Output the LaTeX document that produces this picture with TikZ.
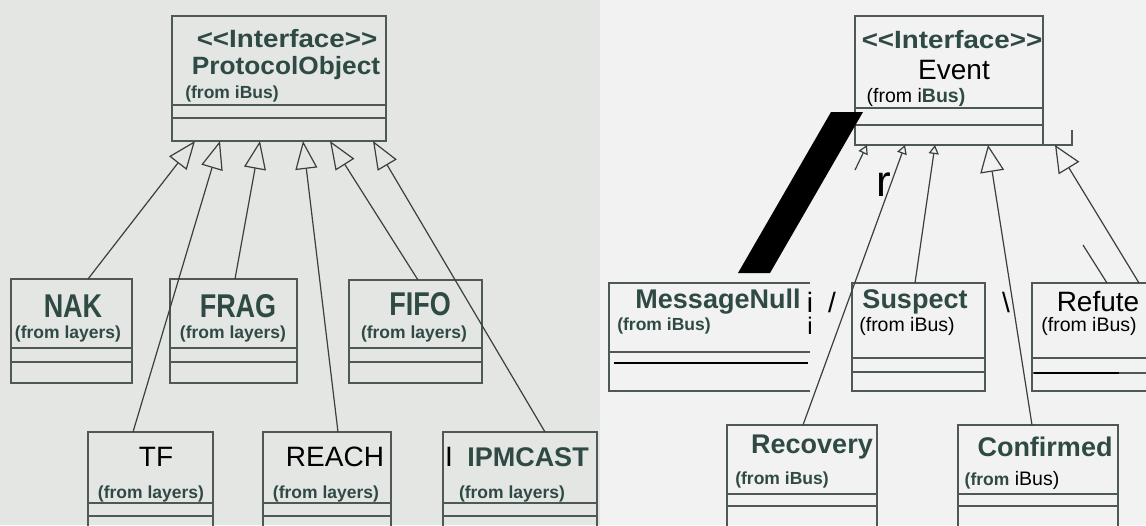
\documentclass[tikz,border=0pt]{standalone}
\usepackage{fontspec}
\setmainfont{Liberation Sans}
\usetikzlibrary{arrows.meta,calc}
\definecolor{bgL}{HTML}{E3E6E3}
\definecolor{bgR}{HTML}{F1F2F1}
\definecolor{ink}{HTML}{2F4A45}
\definecolor{edge}{HTML}{4E5956}
\definecolor{wire}{HTML}{3A403E}
\newcommand\umlbox[7]{%
  \node[boxnode,minimum width={#4-#2},minimum height={#5-#3},anchor=north west] (#1) at (#2,#3) {};
  \draw[compline] (#2,#6) -- (#4,#6);
  \draw[compline] (#2,#7) -- (#4,#7);}
\newcommand\tallname[1]{\scalebox{1}[1.22]{#1}}
\newcommand\stereo{\scalebox{1.11}[1]{<\kern0pt<Interface>\kern0pt>}}
\tikzset{
  boxnode/.style={draw=edge,line width=1.3pt,inner sep=0pt,outer sep=0pt,rectangle},
  compline/.style={draw=edge,line width=1.3pt},
  nm/.style={text=ink,font=\bfseries\fontsize{27}{30}\selectfont,inner sep=0pt},
  nmsm/.style={text=ink,font=\bfseries\fontsize{25}{27}\selectfont,inner sep=0pt},
  nmk/.style={text=black,font=\fontsize{28}{31}\selectfont,inner sep=0pt},
  fr/.style={text=ink,font=\bfseries\fontsize{17.5}{20}\selectfont,inner sep=0pt},
  frk/.style={text=black,font=\fontsize{19.5}{22}\selectfont,inner sep=0pt},
  glyph/.style={text=black,font=\fontsize{28}{31}\selectfont,inner sep=0pt},
  wireline/.style={draw=wire,line width=1.2pt},
  genL/.style={wireline,-{Triangle[length=28pt,width=22pt,fill=bgL]}},
  genR/.style={wireline,-{Triangle[length=27pt,width=24pt,fill=bgR]}},
  genS/.style={wireline,-{Triangle[length=9pt,width=10pt,fill=bgR]}},
}
\begin{document}
\begin{tikzpicture}[x=1pt,y=-1pt]
\useasboundingbox (0,0) rectangle (1146,525);
\fill[bgL] (0,0) rectangle (600,525);
\fill[bgR] (600,0) rectangle (1146,525);
\clip (0,0) rectangle (1146,525);

% ---- boxes
\umlbox{po}{172}{16}{386}{141}{105}{118}
\umlbox{nak}{11}{279}{132}{383}{348}{362}
\umlbox{frag}{170}{279}{297}{383}{348}{362}
\umlbox{fifo}{349}{280}{482}{383}{348}{362}
\umlbox{tf}{88}{432}{213}{545}{503}{516}
\umlbox{reach}{263}{432}{391}{545}{503}{516}
\umlbox{ipm}{443}{432}{597}{545}{503}{516}
\umlbox{event}{855}{16}{1043}{145}{108}{125}
\umlbox{sus}{852}{283}{985}{391}{358}{372}
\umlbox{ref}{1032}{283}{1165}{391}{358}{373}
\umlbox{rec}{727}{425}{877}{545}{494}{506}
\umlbox{conf}{958}{425}{1118}{545}{494}{506}
\node[inner sep=0pt,outer sep=0pt,minimum width=201pt,minimum height=108pt,anchor=north west] (mn) at (609,283) {};
\draw[compline] (mn.north east) -- (mn.north west) -- (mn.south west) -- (mn.south east);
\draw[compline] (609,352) -- (810,352);
\draw[black,line width=1.6pt] (614,363) -- (808,363);
\draw[black,line width=1.6pt] (1034,373) -- (1119,373);
\draw[compline] (event.south east) -- ++(29,0) -- ++(0,-15);

% ---- connectors (left)
\draw[genL] ($(nak.north west)+(77,0)$) -- ($(po.south west)+(23,0)$);
\draw[genL] ($(tf.north west)+(45,0)$) -- ($(po.south west)+(48,0)$);
\draw[genL] ($(frag.north west)+(65,0)$) -- ($(po.south west)+(88,0)$);
\draw[genL] ($(reach.north west)+(75,0)$) -- ($(po.south west)+(131,0)$);
\draw[genL] ($(fifo.north west)+(69,0)$) -- ($(po.south west)+(158,0)$);
\draw[genL] ($(ipm.north west)+(102,0)$) -- ($(po.south west)+(201,0)$);

% ---- connectors (right)
\coordinate (mnstub) at (855,170);
\draw[genS] (mnstub) -- ($(event.south west)+(12,0)$);
\draw[genS] ($(rec.north west)+(76,0)$) -- ($(event.south west)+(50,0)$);
\draw[genS] ($(sus.north west)+(63,0)$) -- ($(event.south west)+(80,0)$);
\draw[genR] ($(conf.north west)+(74,0)$) -- ($(event.south west)+(133,0)$);
\draw[genR] ($(ref.north west)+(107,0)$) -- ($(event.south west)+(200,0)$);
\coordinate (refstub) at (1083,245);
\draw[wireline] (refstub) -- ($(ref.north west)+(75,0)$);
\fill[black] ($(mn.north west)+(129,-10)$) -- ($(mn.north west)+(161,-10)$) -- ($(event.south west)+(8,-33)$) -- ($(event.south west)+(-24,-33)$) -- cycle;

% ---- texts (left)
\node[nmsm] at (287,39) {\stereo};
\node[nmsm] at (286,68) {\scalebox{1.05}[1]{ProtocolObject}};
\node[fr] at (232,94) {(from iBus)};
\node[nm] at (73,306) {\tallname{NAK}};
\node[fr] at (68,334) {(from layers)};
\node[nm] at (238,306) {\tallname{FRAG}};
\node[fr] at (233,334) {(from layers)};
\node[nm] at (420,304) {\tallname{FIFO}};
\node[fr] at (414,334) {(from layers)};
\node[nmk] at (156,457) {TF};
\node[fr] at (151,494) {(from layers)};
\node[nmk] at (335,457) {REACH};
\node[fr] at (326,494) {(from layers)};
\node[glyph] at (449,457) {I};
\node[nm] at (528,457) {IPMCAST};
\node[fr] at (512,494) {(from layers)};

% ---- texts (right)
\node[nmsm] at (952,40) {\stereo};
\node[nmk] at (954,70) {Event};
\node[frk] at (916,97) {(from i\textcolor{ink}{\bfseries Bus)}};
\node[nm] at (718,302) {MessageNull};
\node[fr] at (664,326) {(from iBus)};
\node[nm] at (915,302) {Suspect};
\node[frk] at (907,326) {(from iBus)};
\node[nmk] at (1098,302) {Refute};
\node[frk] at (1089,326) {(from iBus)};
\node[nm] at (812,447) {Recovery};
\node[fr] at (782,480) {(from iBus)};
\node[nm] at (1045,447) {Confirmed};
\node[inner sep=0pt] at (1012,480) {\textcolor{ink}{\bfseries\fontsize{17.5}{20}\selectfont(from}\fontsize{19.5}{22}\selectfont\ iBus)};

% ---- stray glyphs
\node[glyph] at (810,302) {i};
\node[glyph,font=\fontsize{24}{26}\selectfont] at (810,326) {i};
\node[glyph] at (832,302) {/};
\node[glyph] at (1006,302) {\textbackslash};
\node[glyph,font=\fontsize{44}{48}\selectfont] at (884,185) {r};
\end{tikzpicture}
\end{document}
